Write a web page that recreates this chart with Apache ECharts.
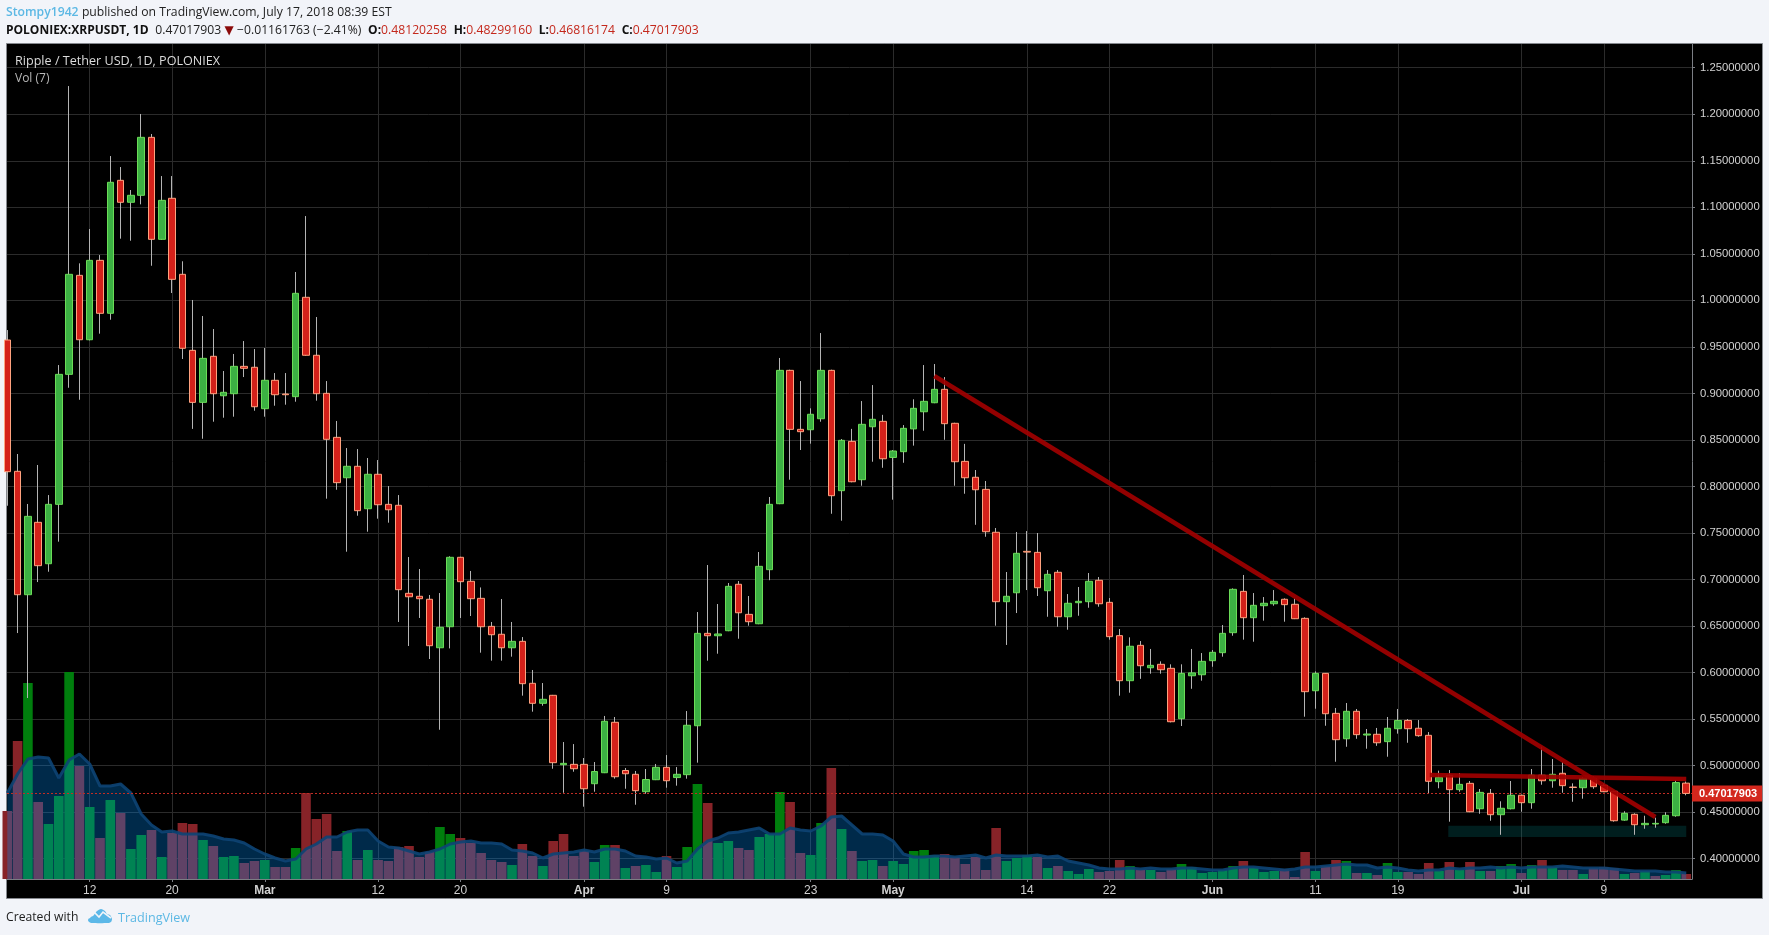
<!DOCTYPE html>
<html>
<head>
<meta charset="utf-8">
<title>XRPUSDT daily</title>
<script src="https://cdn.jsdelivr.net/npm/echarts@6/dist/echarts.min.js"></script>
<style>
html,body{margin:0;padding:0;background:#f2f4f9;}
#chart{width:1769px;height:935px;}
</style>
</head>
<body>
<div id="chart"></div>
<script>
// Daily candles, one entry per day starting 4 Feb 2018.
const opens = [
.9574,.8163,.6837,.7615,.7170,.7808,.9205,1.0269,.9577,1.0430,
.9861,1.1290,1.1054,1.1129,1.1752,1.0656,1.1097,1.0280,.9463,.8904,
.9399,.8975,.8997,.9291,.9281,.8836,.9141,.8994,.8965,1.0033,
.9410,.9001,.8528,.8094,.8217,.7761,.8131,.7808,.7798,.6852,
.6820,.6788,.6267,.6493,.7239,.6981,.6798,.6497,.6412,.6267,
.6336,.5885,.5670,.5756,.5010,.5014,.5014,.4806,.4924,.5466,
.4948,.4907,.4720,.4849,.4982,.4872,.4903,.5429,.6422,.6396,
.6450,.6949,.6626,.6525,.7106,.7815,.9248,.8614,.8610,.8728,
.9248,.7955,.8485,.8073,.8642,.8700,.8312,.8374,.8619,.8803,
.8900,.9044,.8679,.8270,.8099,.7969,.7508,.6762,.6858,.7303,
.7292,.6880,.7078,.6600,.6751,.6762,.6992,.6755,.6397,.5913,
.6293,.6052,.6089,.6046,.5504,.5966,.5977,.6128,.6214,.6429,
.6873,.6590,.6719,.6740,.6788,.6734,.6583,.5805,.5992,.5562,
.5289,.5584,.5329,.5337,.5258,.5397,.5486,.5402,.5326,.4828,
.4897,.4742,.4810,.4537,.4702,.4473,.4537,.4682,.4602,.4897,
.4838,.4918,.4770,.4763,.4864,.4788,.4724,.4415,.4477,.4365,
.4373,.4387,.4462,.48120258];
const closes = [
.8159,.6837,.7679,.7149,.7808,.9205,1.0280,.9577,1.0430,.9861,
1.1269,1.1054,1.1129,1.1752,1.0656,1.1075,1.0226,.9485,.8904,.9377,
.8997,.9012,.9291,.9270,.8857,.9141,.8986,.8986,1.0076,.9410,
.8997,.8507,.8041,.8217,.7740,.8131,.7804,.7750,.6891,.6815,
.6794,.6289,.6487,.7239,.6977,.6794,.6493,.6407,.6267,.6336,
.5881,.5670,.5713,.5032,.5025,.4967,.4752,.4937,.5477,.4881,
.4913,.4731,.4851,.4982,.4838,.4907,.5434,.6422,.6396,.6415,
.6927,.6643,.6547,.7142,.7808,.9248,.8614,.8589,.8776,.9248,
.7901,.8496,.8051,.8668,.8722,.8298,.8381,.8625,.8840,.8915,
.9044,.8675,.8266,.8094,.7965,.7514,.6762,.6820,.7282,.7295,
.6912,.7056,.6600,.6745,.6766,.6981,.6740,.6386,.5913,.6283,
.6074,.6078,.6031,.5472,.5992,.5997,.6121,.6218,.6422,.6895,
.6590,.6723,.6745,.6766,.6730,.6579,.5795,.5992,.5558,.5279,
.5584,.5333,.5340,.5246,.5402,.5486,.5397,.5322,.4832,.4875,
.4742,.4799,.4505,.4713,.4473,.4542,.4682,.4602,.4897,.4838,
.4907,.4785,.4765,.4864,.4774,.4720,.4408,.4488,.4365,.4380,
.4380,.4466,.48179666,.47017903];
const lows = [
.7793,.6425,.5727,.6973,.7084,.7407,.9061,.8932,.9570,.9642,
.9792,1.0663,1.0641,1.1032,1.0372,1.0650,1.0079,.9370,.8619,.8513,
.8696,.8739,.8750,.9176,.8814,.8750,.8868,.8879,.8911,.9405,
.8922,.7869,.7965,.7299,.7686,.7514,.7654,.7611,.6544,.6286,
.6587,.6146,.5386,.6260,.6587,.6608,.6214,.6128,.6128,.6171,
.5752,.5580,.5644,.4967,.4709,.4935,.4559,.4720,.4920,.4860,
.4752,.4580,.4698,.4845,.4763,.4785,.4860,.5032,.6128,.6203,
.6445,.6364,.6504,.6520,.6993,.7810,.8073,.8392,.8460,.8696,
.7707,.7632,.8045,.8008,.8266,.8201,.7858,.8255,.8439,.8599,
.8895,.8502,.8008,.7922,.7588,.7460,.6504,.6297,.6640,.6887,
.6823,.6600,.6493,.6461,.6611,.6697,.6708,.6354,.5752,.5784,
.5933,.5988,.5988,.5465,.5426,.5826,.5913,.6063,.6171,.6396,
.6354,.6332,.6558,.6719,.6547,.6575,.5526,.5612,.5429,.5042,
.5203,.5289,.5182,.5213,.5096,.5344,.5246,.5311,.4703,.4757,
.4398,.4720,.4500,.4483,.4408,.4257,.4530,.4505,.4537,.4795,
.4763,.4709,.4612,.4645,.4752,.4715,.4398,.4408,.4257,.4322,
.4333,.4376,.4451,.46816174];
const highs = [
.9681,.8349,.7812,.8231,.7908,.9305,1.2303,1.0398,1.0767,1.0487,
1.1551,1.1433,1.1186,1.2003,1.1788,1.1336,1.1336,1.0420,1.0004,.9832,
.9692,.9241,.9424,.9563,.9477,.9488,.9219,.9219,1.0305,1.0906,
.9821,.9133,.8704,.8413,.8402,.8306,.8284,.8005,.7908,.7242,
.7113,.6834,.6855,.7250,.7245,.7092,.6915,.6544,.6791,.6544,
.6382,.6028,.5888,.5760,.5254,.5232,.5082,.5039,.5534,.5523,
.4975,.4943,.4964,.5018,.5114,.4985,.5587,.6651,.7156,.6737,
.6963,.6984,.6823,.7296,.7887,.9381,.9255,.9133,.8840,.9649,
.9255,.8510,.8619,.8918,.9090,.8770,.8392,.8660,.8937,.9305,
.9316,.9176,.8685,.8458,.8177,.8059,.7554,.7081,.7511,.7521,
.7500,.7102,.7102,.6844,.6920,.7070,.7027,.6801,.6468,.6379,
.6339,.6254,.6121,.6089,.6089,.6254,.6210,.6243,.6511,.6905,
.7049,.6855,.6812,.6887,.6798,.6798,.6594,.6013,.5995,.5620,
.5673,.5609,.5394,.5405,.5523,.5609,.5501,.5490,.5361,.4946,
.4953,.4921,.4835,.4749,.4749,.4617,.4835,.4688,.4964,.5204,
.5071,.5039,.4810,.4875,.4885,.4810,.4731,.4510,.4488,.4462,
.4441,.4499,.4843,.48299160];
// Traded volume and its 7-day average, in the pane's own relative units.
const volumes = [
68,138,196,77,55,83,207,113,72,41,
79,66,30,44,49,22,46,56,55,39,
33,22,23,16,18,19,12,12,31,86,
60,65,28,48,19,29,19,18,32,33,
22,27,52,45,41,36,26,19,17,14,
35,23,13,38,45,23,28,17,34,34,
11,13,14,7,23,12,32,95,76,36,
38,31,29,42,45,87,77,26,24,56,
111,50,28,18,19,13,18,15,28,29,
24,25,22,15,22,9,51,18,21,24,
22,11,13,8,5,10,7,8,19,13,
9,9,7,10,15,12,6,7,9,13,
18,11,7,8,10,2,27,8,13,19,
18,6,6,4,16,7,7,5,16,8,
17,9,17,8,8,13,15,6,14,19,
12,9,9,5,11,12,11,5,6,8,
3,4,9,5];
const volumeAverage = [
86,105,120,122,121,101,119,125,115,93,
93,95,86,65,54,47,48,45,45,45,
43,40,39,36,30,25,21,18,20,30,
35,42,42,47,49,49,38,32,31,28,
25,27,30,35,37,38,36,36,35,29,
28,26,21,25,26,27,29,27,30,30,
28,23,22,20,21,16,18,30,38,41,
46,47,49,51,45,45,51,49,48,53,
62,63,54,45,45,44,38,25,22,22,
23,23,22,23,24,21,24,23,23,23,
24,22,23,18,16,14,11,10,10,11,
10,11,10,10,11,11,10,9,9,11,
12,12,11,10,9,10,12,12,13,14,
15,14,14,11,12,11,9,8,9,9,
11,10,11,11,12,11,12,11,12,12,
12,13,12,11,11,11,10,9,8,8,
8,7,7,6];

// Date ticks: day number counted from the first candle, and what each one reads.
const tickDays = [8,16,25,36,44,56,64,78,86,99,107,117,127,135,147,155];
const tickLabels = ['12','20','Mar','12','20','Apr','9','23','May','14','22','Jun','11','19','Jul','9'];
const monthLabels = ['Mar','Apr','May','Jun','Jul'];
const priceTicks = [.40,.45,.50,.55,.60,.65,.70,.75,.80,.85,.90,.95,1.00,1.05,1.10,1.15,1.20,1.25];

// Hand-drawn annotations: [day, price] end points and the support zone.
const fallingTrend = [[90,.9187],[160,.4448]];
const flatTrend = [[138.1,.4899],[163,.4857]];
const supportDays = [139.9,163];
const supportPrices = [.4355,.4233];

const lastPrice = closes[closes.length-1];

const GREEN='#3cb043', GREEN_EDGE='#6bdc58', RED='#d4211a', RED_EDGE='#ffa27f', WICK='#b4b4b4';
const wickData = opens.map((o,i)=>[i,o,closes[i],lows[i],highs[i]]);
const bodyData = opens.map((o,i)=>[i,o,closes[i],Math.min(o,closes[i]),Math.max(o,closes[i])]);
const volumeData = volumes.map((v,i)=>{
  const up = i>0 ? closes[i]>closes[i-1] : closes[i]>opens[i];
  return {value:[i,v],itemStyle:{color:up?'#007e0d':'#872328'}};
});
const averageData = volumeAverage.map((v,i)=>[i,v]);

const SANS='"Open Sans","Noto Sans",sans-serif';
const AXIS_FONT='"Liberation Sans",Arial,sans-serif';

const chart = echarts.init(document.getElementById('chart'),null,{renderer:'canvas',width:1769,height:935});
chart.setOption({
  animation:false,
  backgroundColor:'#f2f4f9',
  grid:{left:7,top:44,width:1685,height:835,containLabel:false},
  xAxis:{
    type:'value',min:-0.03,max:163.56,
    axisLine:{onZero:false,show:true,lineStyle:{color:'#7b7e84',width:1}},
    axisTick:{show:true,length:3,customValues:tickDays,lineStyle:{color:'#7b7e84'}},
    axisLabel:{
      customValues:tickDays,margin:6,color:'#d0d0d0',fontFamily:AXIS_FONT,fontSize:12,
      formatter:v=>{
        const t=tickLabels[tickDays.indexOf(v)];
        return monthLabels.includes(t)?'{m|'+t+'}':t;
      },
      rich:{m:{fontWeight:'bold',color:'#d0d0d0',fontFamily:AXIS_FONT,fontSize:12}}
    },
    splitLine:{show:true,lineStyle:{color:'#2b2b2b',width:1}}
  },
  yAxis:[{
    type:'value',position:'right',min:0.3782,max:1.2755,scale:true,
    axisLine:{show:true,onZero:false,lineStyle:{color:'#7b7e84',width:1}},
    axisTick:{show:true,length:3,customValues:priceTicks,lineStyle:{color:'#7b7e84'}},
    axisLabel:{customValues:priceTicks,margin:8,color:'#d2d2d2',fontFamily:AXIS_FONT,fontSize:11.3,
      formatter:v=>v.toFixed(8)},
    splitLine:{show:true,lineStyle:{color:'#2b2b2b',width:1}}
  },{
    type:'value',min:0,max:835,show:false,splitLine:{show:false}
  }],
  graphic:{elements:[
    {type:'rect',z:-10,silent:true,shape:{x:6.5,y:43.5,width:1756,height:855},
      style:{fill:'#000',stroke:'#85888e',lineWidth:1}},
    {type:'text',z:20,silent:true,x:6,y:7,style:{
      text:'{u|Stompy1942} {t|published on TradingView.com, July 17, 2018 08:39 EST}',
      rich:{u:{fill:'#5cb8e4',fontFamily:SANS,fontSize:12.2,fontWeight:600},
            t:{fill:'#222',fontFamily:SANS,fontSize:12.2}}}},
    {type:'text',z:20,silent:true,x:6,y:25,style:{
      text:'{b|POLONIEX:XRPUSDT, 1D}  {t|0.47017903} {a|▼} {t|−0.01161763 (−2.41%)}  {b|O:}{r|0.48120258}  {b|H:}{r|0.48299160}  {b|L:}{r|0.46816174}  {b|C:}{r|0.47017903}',
      rich:{b:{fill:'#111',fontFamily:SANS,fontSize:12,fontWeight:'bold'},
            t:{fill:'#222',fontFamily:SANS,fontSize:12.2},
            a:{fill:'#8b0a0a',fontFamily:'"DejaVu Sans",sans-serif',fontSize:12},
            r:{fill:'#c4281c',fontFamily:SANS,fontSize:12.2}}}},
    {type:'text',z:20,silent:true,x:15,y:55,style:{text:'Ripple / Tether USD, 1D, POLONIEX',fill:'#dcdcdc',fontFamily:SANS,fontSize:12.6}},
    {type:'text',z:20,silent:true,x:15,y:73,style:{text:'Vol (7)',fill:'#b8b8b8',fontFamily:SANS,fontSize:12}},
    {type:'text',z:20,silent:true,x:6,y:912,style:{text:'Created with',fill:'#1c1c1c',fontFamily:SANS,fontSize:12.2}},
    {type:'polygon',z:20,silent:true,x:88,y:908,shape:{
      points:[[0,12],[2,9],[5,8],[9,3],[13,1],[17,3],[19,6],[22,7],[24,11],[23,14],[20,15],[4,15],[1,14]],smooth:0.25},
      style:{fill:'#5cb8e8'}},
    {type:'polyline',z:21,silent:true,x:88,y:908,shape:{points:[[1,10],[6,4],[11,9],[15,4],[23,10]]},
      style:{stroke:'#f2f4f9',fill:'none',lineWidth:1.6}},
    {type:'text',z:20,silent:true,x:118,y:912,style:{text:'TradingView',fill:'#5cb8e4',fontFamily:SANS,fontSize:12.6}}
  ]},
  series:[
    {
      // support zone underlay
      type:'line',z:1,xAxisIndex:0,yAxisIndex:0,data:[[supportDays[0],supportPrices[0]]],
      showSymbol:false,lineStyle:{opacity:0},silent:true,
      markArea:{silent:true,itemStyle:{color:'rgba(0,150,150,0.2)'},
        data:[[{coord:[supportDays[0],supportPrices[0]]},{coord:[supportDays[1],supportPrices[1]]}]]}
    },
    {
      type:'bar',z:2,xAxisIndex:0,yAxisIndex:1,data:volumeData,barWidth:9.6,silent:true
    },
    {
      type:'line',z:3,xAxisIndex:0,yAxisIndex:1,data:averageData,showSymbol:false,silent:true,
      lineStyle:{color:'#0d4474',width:3,opacity:.9},
      areaStyle:{color:'rgba(0,145,255,0.29)',opacity:1,origin:'start'}
    },
    {
      type:'candlestick',name:'wick',z:4,xAxisIndex:0,yAxisIndex:0,data:wickData,barWidth:1,silent:true,
      itemStyle:{color:WICK,color0:WICK,borderColor:WICK,borderColor0:WICK,borderWidth:1}
    },
    {
      type:'candlestick',name:'body',z:5,xAxisIndex:0,yAxisIndex:0,data:bodyData,barWidth:7,silent:true,
      itemStyle:{color:GREEN,color0:RED,borderColor:GREEN_EDGE,borderColor0:RED_EDGE,borderWidth:1}
    },
    {
      type:'line',z:6,xAxisIndex:0,yAxisIndex:0,data:fallingTrend,showSymbol:false,silent:true,
      lineStyle:{color:'#a00000',width:4.5,cap:'butt',opacity:.92}
    },
    {
      type:'line',z:6,xAxisIndex:0,yAxisIndex:0,data:flatTrend,showSymbol:false,silent:true,
      lineStyle:{color:'#a00000',width:4.5,cap:'butt',opacity:.92},
      markLine:{
        silent:true,symbol:'none',
        lineStyle:{color:'#c22c24',type:[2,2],width:1},
        label:{show:true,position:'end',distance:0,formatter:()=>lastPrice.toFixed(8),
          color:'#fff',backgroundColor:'#d3271d',fontFamily:AXIS_FONT,fontSize:11,fontWeight:'bold',
          padding:[3,5,2,7]},
        data:[{yAxis:lastPrice}]
      }
    }
  ]
});
</script>
</body>
</html>
